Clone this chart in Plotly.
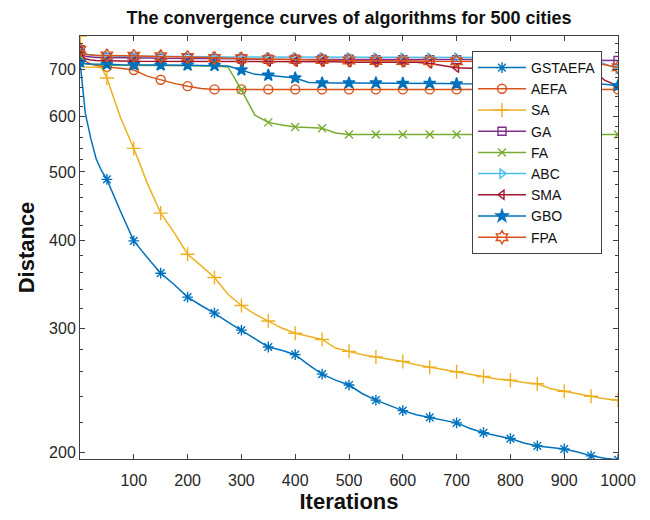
import plotly.graph_objects as go

ITER = [0, 5, 10, 20, 30, 40, 50, 75, 100, 125, 150, 175, 200, 225, 250, 275, 300,
        325, 350, 375, 400, 425, 450, 475, 500, 525, 550, 575, 600, 625, 650, 675,
        700, 725, 750, 775, 800, 825, 850, 875, 900, 925, 950, 975, 1000]

GSTAEFA = [718, 650, 605, 558, 522, 502, 488, 440, 399, 378, 359, 346, 332, 323, 315, 306, 298,
           290, 282, 279, 275, 266, 258, 253, 249, 242, 237, 233, 229, 226, 224, 222,
           220, 216, 213, 211, 209, 206, 204, 203, 202, 200, 197.5, 196, 195]
AEFA = [742, 725, 718, 712, 708, 706, 705, 702, 698, 684, 676, 668, 662, 657, 655, 655, 655,
        655, 655, 655, 655, 655, 655, 655, 655, 655, 655, 655, 655, 655, 655, 655,
        655, 655, 655, 655, 655, 655, 655, 655, 655, 655, 655, 655, 655]
SA = [780, 706, 705, 705, 704, 703, 680, 598, 540, 482, 437, 410, 382, 368, 354, 335, 323,
      314, 307, 300, 295, 292, 289, 281, 278, 275, 273, 271, 269, 266, 264, 262,
      260, 258, 256, 254, 253, 251, 250, 246, 244, 242, 240, 238, 237]
GA = [746, 735, 730, 728, 727, 727, 727, 726, 726, 726, 725, 725, 725, 725, 724, 724, 724,
      723, 723, 723, 723, 723, 723, 723, 723, 722, 722, 722, 722, 722, 722, 722,
      722, 722, 722, 721, 721, 721, 721, 721, 721, 721, 721, 721, 720]
FA = [728, 714, 712, 711, 710, 710, 709, 709, 708, 708, 708, 708, 707, 707, 707, 705, 654,
      602, 588, 583, 579, 578, 577, 568, 565, 565, 565, 565, 565, 565, 565, 565,
      565, 565, 565, 565, 565, 565, 565, 565, 565, 565, 565, 565, 565]
ABC = [750, 738, 735, 733, 732, 732, 731, 730, 730, 730, 730, 729, 729, 729, 729, 728, 728,
       728, 728, 728, 728, 728, 728, 728, 728, 727, 727, 727, 727, 727, 727, 727,
       727, 727, 727, 727, 727, 727, 727, 727, 727, 727, 727, 712, 700]
SMA = [744, 730, 724, 721, 720, 720, 719, 719, 718, 718, 718, 718, 718, 718, 717, 717, 717,
       717, 717, 717, 717, 717, 717, 717, 716, 716, 716, 716, 716, 716, 713, 708,
       703, 702, 702, 702, 702, 702, 702, 702, 702, 702, 702, 675, 662]
GBO = [716, 714, 713, 712, 712, 712, 711, 710, 710, 710, 709, 709, 709, 708, 708, 707, 698,
       688, 686, 683, 680, 670, 669, 669, 669, 669, 669, 668, 668, 668, 668, 668,
       667, 667, 667, 667, 667, 666, 666, 666, 666, 666, 666, 666, 663]
FPA = [746, 738, 735, 733, 732, 732, 732, 731, 731, 730, 730, 729, 728, 727, 726, 725, 725,
       724, 723, 723, 722, 721, 721, 720, 720, 720, 719, 719, 719, 719, 718, 718,
       718, 717, 717, 717, 717, 717, 717, 717, 717, 717, 717, 710, 704]

NAMES = ["GSTAEFA", "AEFA", "SA", "GA", "FA", "ABC", "SMA", "GBO", "FPA"]
SERIES = [GSTAEFA, AEFA, SA, GA, FA, ABC, SMA, GBO, FPA]
COLORS = ["#0072BD", "#D95319", "#EDB120", "#7E2F8E", "#77AC30",
          "#4DBEEE", "#A2142F", "#0072BD", "#D95319"]
SYMBOLS = ["asterisk-open", "circle-open", "cross-thin-open", "square-open", "x-thin-open",
           "triangle-right-open", "triangle-left-open", "star", "hexagram-open"]
SIZES = [9, 9, 10, 8, 8, 8, 8, 9, 10]

Y_TICKS = [200, 300, 400, 500, 600, 700]
Y_MINOR = [220, 240, 260, 280, 320, 340, 360, 380, 420, 440, 460, 480,
           520, 540, 560, 580, 620, 640, 660, 680, 720, 740, 760, 780]
X_TICKS = [100, 200, 300, 400, 500, 600, 700, 800, 900, 1000]

FONT = "Liberation Sans, Arial, Helvetica, sans-serif"
AX = "#404040"

fig = go.Figure()
mk_idx = [i for i, v in enumerate(ITER) if v % 50 == 0]
for name, ys, col, sym, sz in zip(NAMES, SERIES, COLORS, SYMBOLS, SIZES):
    fig.add_trace(go.Scatter(x=ITER, y=ys, mode="lines", line=dict(color=col, width=1.5),
                             showlegend=False, hoverinfo="skip"))
    fig.add_trace(go.Scatter(x=[ITER[i] for i in mk_idx], y=[ys[i] for i in mk_idx],
                             mode="markers", showlegend=False,
                             marker=dict(symbol=sym, size=sz, color=col,
                                         line=dict(color=col, width=1.4))))
for name, col, sym, sz in zip(NAMES, COLORS, SYMBOLS, SIZES):
    fig.add_trace(go.Scatter(x=[None], y=[None], name=name, mode="lines+markers",
                             line=dict(color=col, width=1.5),
                             marker=dict(symbol=sym, size=sz, color=col,
                                         line=dict(color=col, width=1.4))))

fig.update_layout(
    width=650, height=520,
    margin=dict(l=80, r=32, t=36, b=61),
    plot_bgcolor="white", paper_bgcolor="white",
    font=dict(family=FONT, color="#262626", size=16),
    title=dict(text="<b>The convergence curves of algorithms for 500 cities</b>",
               x=0.5, xref="paper", xanchor="center",
               y=1 - 18 / 520, yref="container", yanchor="middle",
               font=dict(size=18, color="#111111")),
    legend=dict(x=(472 - 80) / 538, y=(459 - 51) / 423, xanchor="left", yanchor="top",
                bgcolor="white", bordercolor=AX, borderwidth=1,
                font=dict(size=14, color="#111111"), itemwidth=48,
                tracegroupgap=0),
    xaxis=dict(range=[0, 1000], tickvals=X_TICKS, ticks="inside", ticklen=5,
               tickcolor=AX, showline=True, linecolor=AX, linewidth=1, mirror="ticks",
               showgrid=False, zeroline=False, tickfont=dict(size=16),
               ticklabelstandoff=7, automargin=False,
               title=dict(text="<b>Iterations</b>", font=dict(size=22, color="#111111"),
                          standoff=4)),
    yaxis=dict(type="log", range=[2.2911, 2.8921], tickvals=Y_TICKS,
               ticktext=[str(v) for v in Y_TICKS],
               ticks="inside", ticklen=5, tickcolor=AX,
               minor=dict(tickmode="array", tickvals=Y_MINOR, ticks="inside",
                          ticklen=3, tickcolor=AX),
               showline=True, linecolor=AX, linewidth=1, mirror="ticks",
               showgrid=False, zeroline=False, tickfont=dict(size=16),
               automargin=False,
               title=dict(text="<b>Distance</b>", font=dict(size=22, color="#111111"),
                          standoff=8)),
)

fig.write_html("out.html")
